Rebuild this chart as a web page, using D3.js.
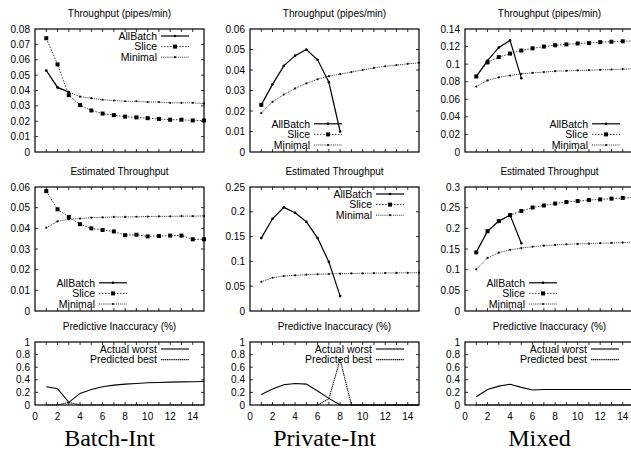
<!DOCTYPE html>
<html>
<head>
<meta charset="utf-8">
<script src="https://cdn.jsdelivr.net/npm/d3@7"></script>
<style>
  body { margin: 0; background: #fff; }
  svg { display: block; }
  text { font-family: "Liberation Sans", Arial, sans-serif; fill: #000; }
</style>
</head>
<body>
<svg id="chart" width="631" height="454"></svg>
<script>
// x values (number of steps)
var steps = [1, 2, 3, 4, 5, 6, 7, 8, 9, 10, 11, 12, 13, 14, 15]
var xTickLabels = [0, 2, 4, 6, 8, 10, 12, 14]

var colNames = ["Batch-Int", "Private-Int", "Mixed"]
var rowTitles = ["Throughput (pipes/min)", "Estimated Throughput", "Predictive Inaccuracy (%)"]

// row 1: throughput
var batchThruAll = [0.053, 0.042, 0.039]
var batchThruSlice = [0.074, 0.057, 0.037, 0.0305, 0.027, 0.025, 0.024, 0.023, 0.0225, 0.022, 0.0215, 0.021, 0.021, 0.0205, 0.0205]
var batchThruMin = [0.053, 0.042, 0.039, 0.036, 0.035, 0.034, 0.0335, 0.033, 0.033, 0.0325, 0.0325, 0.032, 0.032, 0.032, 0.0315]
var privThruAll = [0.023, 0.033, 0.042, 0.047, 0.050, 0.045, 0.034, 0.010]
var privThruSlice = [0.023]
var privThruMin = [0.019, 0.0245, 0.028, 0.031, 0.0335, 0.0355, 0.037, 0.038, 0.039, 0.040, 0.041, 0.0418, 0.0424, 0.043, 0.0435]
var mixedThruAll = [0.086, 0.104, 0.119, 0.127, 0.084]
var mixedThruSlice = [0.086, 0.102, 0.108, 0.112, 0.1155, 0.118, 0.120, 0.1215, 0.1225, 0.1235, 0.124, 0.125, 0.1255, 0.126, 0.1265]
var mixedThruMin = [0.0745, 0.0815, 0.085, 0.087, 0.089, 0.090, 0.091, 0.092, 0.0924, 0.0928, 0.0931, 0.0935, 0.0939, 0.0943, 0.0947]

// row 2: estimated throughput
var batchEstSlice = [0.058, 0.0492, 0.0455, 0.042, 0.040, 0.0392, 0.0385, 0.0367, 0.0369, 0.0361, 0.0363, 0.0365, 0.0365, 0.0347, 0.0347]
var batchEstMin = [0.0403, 0.0434, 0.0444, 0.0447, 0.0452, 0.0453, 0.0455, 0.0455, 0.0456, 0.0457, 0.0458, 0.0458, 0.0459, 0.0459, 0.046]
var privEstAll = [0.147, 0.186, 0.209, 0.198, 0.180, 0.147, 0.099, 0.030]
var privEstMin = [0.059, 0.067, 0.0706, 0.072, 0.0732, 0.074, 0.0746, 0.0753, 0.0757, 0.076, 0.0763, 0.0766, 0.0768, 0.077, 0.0773]
var mixedEstAll = [0.142, 0.193, 0.2175, 0.232, 0.164]
var mixedEstSlice = [0.142, 0.193, 0.2175, 0.232, 0.242, 0.2504, 0.2553, 0.260, 0.2636, 0.266, 0.2685, 0.270, 0.2718, 0.2735, 0.2745]
var mixedEstMin = [0.1005, 0.1285, 0.141, 0.148, 0.1524, 0.1557, 0.158, 0.1598, 0.1614, 0.1623, 0.163, 0.164, 0.1647, 0.1656, 0.1664]

// row 3: predictive inaccuracy
var batchErrWorst = [0.289, 0.258, 0.042, 0.184, 0.247, 0.289, 0.316, 0.332, 0.342, 0.352, 0.358, 0.363, 0.367, 0.37, 0.374]
var batchErrBest = [0, 0, 0.04, 0, 0, 0, 0, 0, 0, 0, 0, 0, 0, 0, 0]
var privErrWorst = [0.168, 0.253, 0.321, 0.342, 0.332, 0.221, 0.105, 0, 0, 0, 0, 0, 0, 0, 0]
var privErrBest = [0, 0, 0, 0, 0, 0, 0.1, 0.72, 0, 0, 0, 0, 0, 0, 0]
var mixedErrWorst = [0.13, 0.247, 0.30, 0.33, 0.28, 0.237, 0.245, 0.245, 0.245, 0.245, 0.246, 0.246, 0.246, 0.247, 0.247]
var mixedErrBest = [0, 0, 0, 0, 0, 0, 0, 0, 0, 0, 0, 0, 0, 0, 0]

// y ticks per panel
var yTicksThru = [[0, 0.01, 0.02, 0.03, 0.04, 0.05, 0.06, 0.07, 0.08],
                  [0, 0.01, 0.02, 0.03, 0.04, 0.05, 0.06],
                  [0, 0.02, 0.04, 0.06, 0.08, 0.1, 0.12, 0.14]]
var yTicksEst = [[0, 0.01, 0.02, 0.03, 0.04, 0.05, 0.06],
                 [0, 0.05, 0.1, 0.15, 0.2, 0.25],
                 [0, 0.05, 0.1, 0.15, 0.2, 0.25, 0.3]]
var yTicksErr = [0, 0.2, 0.4, 0.6, 0.8, 1]

var styles = {
    "AllBatch": { dash: null, width: 1.2, color: "#000", mark: "dot" },
    "Slice": { dash: "1.6,1.4", width: 0.9, color: "#333", mark: "square" },
    "Minimal": { dash: "1,0.9", width: 0.9, color: "#222", mark: "small" },
    "Actual worst": { dash: null, width: 1.1, color: "#000", mark: null },
    "Predicted best": { dash: "1.2,0.7", width: 1.1, color: "#000", mark: null }
}

var panels = [
    { row: 0, col: 0, ticks: yTicksThru[0], legend: "tr", series: [["AllBatch", batchThruAll], ["Slice", batchThruSlice], ["Minimal", batchThruMin]] },
    { row: 0, col: 1, ticks: yTicksThru[1], legend: "bl", series: [["AllBatch", privThruAll], ["Slice", privThruSlice], ["Minimal", privThruMin]] },
    { row: 0, col: 2, ticks: yTicksThru[2], legend: "br", series: [["AllBatch", mixedThruAll], ["Slice", mixedThruSlice], ["Minimal", mixedThruMin]] },
    { row: 1, col: 0, ticks: yTicksEst[0], legend: "bl", series: [["AllBatch", []], ["Slice", batchEstSlice], ["Minimal", batchEstMin]] },
    { row: 1, col: 1, ticks: yTicksEst[1], legend: "tr", series: [["AllBatch", privEstAll], ["Slice", []], ["Minimal", privEstMin]] },
    { row: 1, col: 2, ticks: yTicksEst[2], legend: "bl", series: [["AllBatch", mixedEstAll], ["Slice", mixedEstSlice], ["Minimal", mixedEstMin]] },
    { row: 2, col: 0, ticks: yTicksErr, legend: "tr", series: [["Actual worst", batchErrWorst], ["Predicted best", batchErrBest]] },
    { row: 2, col: 1, ticks: yTicksErr, legend: "tr", series: [["Actual worst", privErrWorst], ["Predicted best", privErrBest]] },
    { row: 2, col: 2, ticks: yTicksErr, legend: "tr", series: [["Actual worst", mixedErrWorst], ["Predicted best", mixedErrBest]] }
]

var colLeft = [35, 250, 465]
var plotW = 169
var rowTop = [29, 187, 342]
var rowBottom = [152, 311, 405]

var svg = d3.select("#chart")
var fmt = d3.format("~g")

function drawMark(g, kind, cx, cy) {
    if (kind == "square") {
        g.append("rect").attr("x", cx - 2).attr("y", cy - 2)
            .attr("width", 4).attr("height", 4).attr("fill", "#000")
    } else if (kind == "dot") {
        g.append("circle").attr("cx", cx).attr("cy", cy).attr("r", 1.3).attr("fill", "#000")
    } else if (kind == "small") {
        g.append("circle").attr("cx", cx).attr("cy", cy).attr("r", 1.1).attr("fill", "#111")
    }
}

panels.forEach(function (p) {
    var x0 = colLeft[p.col], x1 = x0 + plotW
    var y0 = rowBottom[p.row], y1 = rowTop[p.row]
    var xScale = d3.scaleLinear().domain([0, 15]).range([x0, x1])
    var yScale = d3.scaleLinear().domain([0, p.ticks[p.ticks.length - 1]]).range([y0, y1])
    var g = svg.append("g")

    // title
    g.append("text").attr("x", (x0 + x1) / 2).attr("y", y1 - 12.5)
        .attr("text-anchor", "middle").attr("font-size", "10px").text(rowTitles[p.row])

    // y ticks and labels
    p.ticks.forEach(function (t) {
        var yy = yScale(t)
        g.append("text").attr("x", x0 - 5).attr("y", yy + 3.6)
            .attr("text-anchor", "end").attr("font-size", "10px").text(fmt(t))
        if (t > 0 && t < p.ticks[p.ticks.length - 1]) {
            g.append("line").attr("x1", x0).attr("x2", x0 + 3).attr("y1", yy).attr("y2", yy)
                .attr("stroke", "#000").attr("stroke-width", 0.8)
            g.append("line").attr("x1", x1).attr("x2", x1 - 3).attr("y1", yy).attr("y2", yy)
                .attr("stroke", "#000").attr("stroke-width", 0.8)
        }
    })

    // x ticks
    steps.slice(0, 14).forEach(function (s) {
        var xx = xScale(s)
        g.append("line").attr("x1", xx).attr("x2", xx).attr("y1", y0).attr("y2", y0 - 3)
            .attr("stroke", "#000").attr("stroke-width", 0.8)
        g.append("line").attr("x1", xx).attr("x2", xx).attr("y1", y1).attr("y2", y1 + 3)
            .attr("stroke", "#000").attr("stroke-width", 0.8)
    })
    if (p.row == 2) {
        xTickLabels.forEach(function (s) {
            g.append("text").attr("x", xScale(s)).attr("y", y0 + 15)
                .attr("text-anchor", "middle").attr("font-size", "10px").text(s)
        })
        svg.append("text").attr("x", (x0 + x1) / 2 - 10).attr("y", 446)
            .attr("text-anchor", "middle")
            .style("font-family", "'Liberation Serif', 'Times New Roman', serif")
            .attr("font-size", "24px").text(colNames[p.col])
    }

    // series
    var line = d3.line()
        .x(function (d, i) { return xScale(steps[i]) })
        .y(function (d) { return yScale(d) })
    p.series.slice().reverse().forEach(function (s) {
        var st = styles[s[0]]
        var vals = s[1]
        if (vals.length == 0) return
        g.append("path").attr("d", line(vals)).attr("fill", "none")
            .attr("stroke", st.color).attr("stroke-width", st.width)
            .attr("stroke-dasharray", st.dash)
        vals.forEach(function (v, i) { drawMark(g, st.mark, xScale(steps[i]), yScale(v)) })
    })

    // frame
    g.append("rect").attr("x", x0).attr("y", y1).attr("width", x1 - x0).attr("height", y0 - y1)
        .attr("fill", "none").attr("stroke", "#000").attr("stroke-width", 1.2)

    // legend
    var n = p.series.length
    var lh = 10.6
    var textRight, ly
    if (p.legend == "tr") { textRight = x1 - 47; ly = y1 + 7 }
    else if (p.legend == "br") { textRight = x1 - 46; ly = y0 - 7 - (n - 1) * lh }
    else { textRight = x0 + 60; ly = y0 - 7 - (n - 1) * lh }
    p.series.forEach(function (s, i) {
        var st = styles[s[0]]
        var yy = ly + i * lh
        g.append("text").attr("x", textRight).attr("y", yy + 3.7)
            .attr("text-anchor", "end").attr("font-size", "10.5px").text(s[0])
        g.append("line").attr("x1", textRight + 4).attr("x2", textRight + 32)
            .attr("y1", yy).attr("y2", yy).attr("stroke", st.color)
            .attr("stroke-width", st.width).attr("stroke-dasharray", st.dash)
        drawMark(g, st.mark, textRight + 18, yy)
    })
})
</script>
</body>
</html>
